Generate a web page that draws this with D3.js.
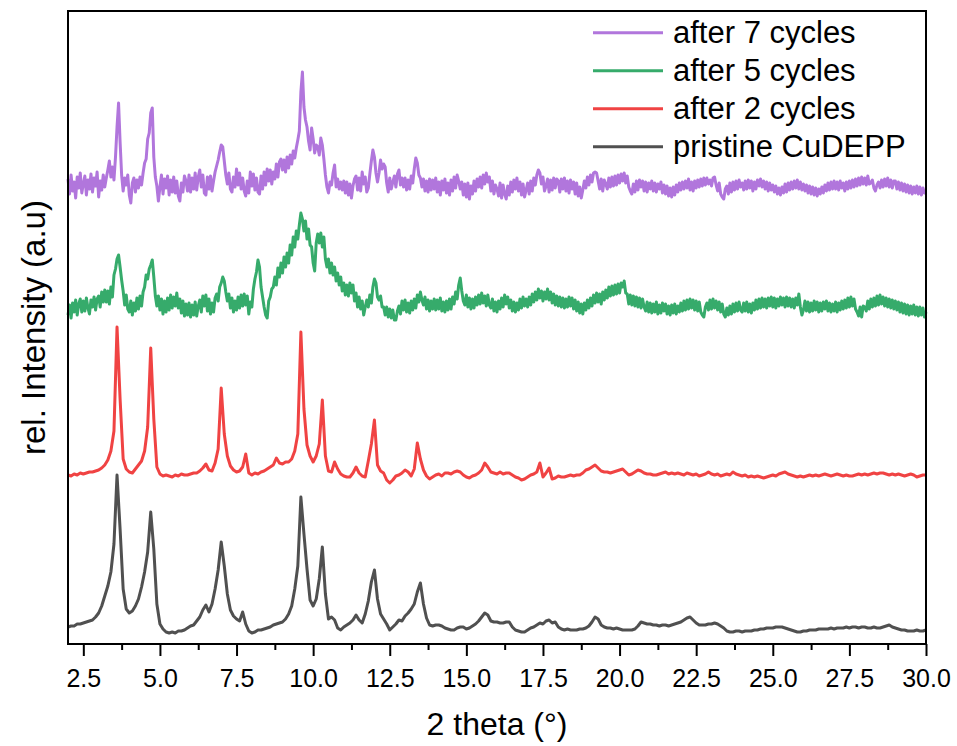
<!DOCTYPE html>
<html>
<head>
<meta charset="utf-8">
<script src="https://cdn.jsdelivr.net/npm/d3@7"></script>
<style>
  html, body { margin: 0; padding: 0; background: #fff; }
  svg { display: block; font-family: "Liberation Sans", Arial, sans-serif; }
</style>
</head>
<body>
<svg id="chart" width="957" height="746"></svg>
<script>
// ---------------- DATA ----------------
// scan grids (2-theta start, step) for each measured pattern
const scanStart = 2.0;
const coarseStep = 0.1;   // pristine and 2-cycle scans
const fineStep = 0.05;    // 5-cycle and 7-cycle scans

const xTicksMajor = [2.5, 5.0, 7.5, 10.0, 12.5, 15.0, 17.5, 20.0, 22.5, 25.0, 27.5, 30.0];
const xTicksMinor = [3.75, 6.25, 8.75, 11.25, 13.75, 16.25, 18.75, 21.25, 23.75, 26.25, 28.75];

const seriesNames = ["pristine CuDEPP", "after 2 cycles", "after 5 cycles", "after 7 cycles"];
const seriesColors = ["#505050", "#F04343", "#36AB6B", "#B176DC"];
const seriesOffsets = [0, 155, 317, 447];   // vertical stacking offsets (a.u.)

// pristine CuDEPP, 2.0 .. 30.0 step 0.1
const pristine = [
 17,18,18,20,20,21,22,23,24,27,
 31,38,48,58,72,100,169,115,55,35,
 31,33,38,45,57,72,92,132,95,40,
 20,15,12,11,12,11,13,13,14,16,
 18,19,23,27,34,39,32,40,55,74,
 102,78,50,34,28,25,23,32,20,13,
 11,12,14,14,15,16,17,19,20,21,
 22,25,30,38,55,78,147,110,75,44,
 38,45,65,97,50,25,27,24,16,14,
 17,19,21,24,29,24,21,30,43,62,
 74,45,30,25,20,14,17,20,24,23,
 28,31,35,40,52,61,40,26,19,18,
 19,19,18,16,15,14,14,16,17,17,
 15,16,18,20,23,27,31,29,23,22,
 22,21,21,22,22,17,14,13,12,12,
 14,16,17,19,21,20,23,24,21,22,
 17,15,14,15,14,14,14,15,15,16,
 18,22,27,25,19,17,16,16,15,16,
 15,14,14,14,14,15,18,22,21,20,
 20,19,19,18,19,19,18,19,20,21,
 22,24,26,27,24,21,19,19,19,20,
 20,21,20,18,16,13,12,12,13,13,
 12,13,13,13,14,14,15,15,16,16,
 16,17,17,17,16,15,14,13,12,12,
 13,13,14,14,14,15,15,15,15,16,
 15,16,16,16,17,16,17,17,16,17,
 17,16,16,17,16,16,17,18,19,17,
 16,15,14,14,13,13,13,14,13,13,
 14
];

// after 2 cycles, 2.0 .. 30.0 step 0.1
const cycles2 = [
 14,13,15,14,16,15,16,17,17,18,
 19,21,24,29,38,58,162,90,30,20,
 17,16,20,24,28,38,62,141,70,22,
 15,13,14,13,12,14,13,15,14,14,
 15,16,16,18,21,25,19,18,26,40,
 101,55,33,23,19,17,18,22,35,16,
 14,16,15,17,18,20,22,24,31,26,
 25,27,27,30,38,55,157,80,44,33,
 27,33,45,89,33,18,17,27,20,15,
 13,12,12,16,22,16,13,12,28,45,
 69,24,18,16,9,6,9,13,14,16,
 19,17,13,20,46,30,19,13,10,12,
 14,15,13,16,16,15,17,18,17,14,
 12,11,13,14,16,19,26,22,17,16,
 15,17,15,16,16,14,12,11,9,10,
 12,14,15,17,26,12,16,21,10,11,
 13,12,12,13,14,13,14,14,16,19,
 20,22,24,21,18,17,17,16,17,18,
 19,20,17,14,15,17,19,18,16,15,
 15,14,14,15,16,17,15,16,15,16,
 15,14,16,15,14,15,13,14,15,17,
 15,14,15,13,14,15,14,17,15,14,
 13,14,12,13,12,13,12,11,12,13,
 14,13,15,16,17,15,14,13,12,13,
 12,13,14,13,14,13,14,15,14,13,
 14,15,14,13,14,13,13,14,15,14,
 15,14,15,16,15,16,16,15,14,15,
 14,15,14,13,14,15,14,12,13,14,
 14
];

// after 5 cycles, 2.0 .. 30.0 step 0.05
const cycles5 = [
 12,22,9,24,15,27,12,23,28,15,26,16,29,19,13,27,20,30,17,28,
 31,20,35,25,37,25,36,23,40,30,52,58,68,72,60,47,36,22,32,18,
 15,26,12,24,16,29,18,31,21,35,40,52,48,58,62,67,50,31,21,31,
 17,28,13,26,15,29,17,32,19,30,21,34,19,28,14,26,11,23,12,24,
 10,22,12,25,11,21,27,15,31,21,32,16,28,13,24,15,29,33,26,40,
 44,50,46,35,26,33,19,29,15,26,17,30,19,32,21,33,22,31,13,25,
 20,38,48,55,67,60,40,30,20,12,9,26,30,38,40,50,42,59,50,64,
 54,70,60,74,64,82,72,90,80,96,88,102,114,108,96,106,88,98,82,80,
 64,56,84,93,84,94,80,90,68,60,68,54,64,52,60,46,54,42,50,36,
 44,32,42,31,44,34,42,26,34,20,30,18,26,12,20,27,20,32,24,40,
 48,44,30,27,31,20,20,12,20,10,18,9,17,7,7,16,21,13,26,17,
 27,15,24,14,26,17,28,19,32,25,35,27,22,30,18,27,16,26,18,28,
 17,27,18,29,16,25,15,26,17,28,18,30,23,35,28,42,49,36,26,22,
 32,20,29,18,28,19,30,22,32,23,34,24,31,21,32,22,19,28,16,25,
 15,26,18,29,20,32,23,30,19,27,16,25,15,24,17,28,19,30,21,28,
 20,30,22,33,25,35,27,38,29,36,26,35,28,38,27,35,24,33,22,31,
 21,30,20,29,19,28,20,30,21,29,18,27,16,25,14,23,13,24,17,27,
 19,29,21,32,24,34,25,33,23,35,27,37,29,40,31,41,32,42,33,43,
 34,44,40,46,34,33,23,32,22,31,21,30,20,29,19,28,20,16,25,15,
 24,14,23,15,25,13,22,14,24,16,23,13,21,12,22,14,23,13,21,15,
 24,16,26,17,27,18,28,19,27,17,26,16,25,15,12,10,20,24,17,27,
 18,28,19,26,17,25,15,23,13,10,19,12,21,13,23,15,24,16,25,17,
 15,24,16,25,15,23,14,24,17,27,18,28,19,29,20,28,19,29,21,30,
 20,29,19,28,21,30,22,29,20,30,21,29,20,28,19,29,22,33,20,12,
 17,26,16,25,15,24,16,26,17,25,15,24,16,25,18,26,16,24,15,23,
 16,25,15,24,17,26,18,27,19,29,20,30,21,28,18,15,11,20,10,21,
 20,16,26,18,28,20,29,21,31,22,32,23,30,21,29,20,28,19,27,18,
 26,17,25,15,24,14,23,13,22,12,21,13,22,12,20,11,20,12,19,10,
 15
];

// after 7 cycles, 2.0 .. 30.0 step 0.05
const cycles7 = [
 18,3,22,6,15,-1,20,9,24,4,13,21,2,17,8,23,5,19,11,25,
 0,16,7,22,10,19,27,36,20,30,17,40,70,94,55,22,6,19,12,22,
 2,-6,14,19,5,17,9,20,12,24,34,38,58,64,84,89,40,20,11,-4,
 10,22,3,18,9,21,2,17,5,20,4,16,1,-4,14,5,21,16,6,22,
 5,19,8,24,7,20,27,10,22,4,2,20,8,21,6,16,25,31,37,45,
 52,50,36,22,13,24,8,5,20,10,28,12,24,8,19,6,1,16,4,25,
 11,23,7,19,5,3,21,8,25,12,28,16,27,13,25,18,33,20,35,38,
 27,37,25,40,29,42,33,46,39,49,57,66,105,125,90,77,70,56,47,69,
 58,44,52,50,42,59,52,38,22,10,4,15,12,24,32,10,18,8,15,7,
 16,4,15,2,13,-1,11,18,21,7,19,6,25,13,20,5,9,23,36,47,
 40,24,15,24,37,28,33,30,14,5,19,8,15,21,10,23,27,12,19,10,
 19,7,17,8,21,14,28,39,34,22,19,10,18,6,16,5,18,7,17,8,
 19,5,15,2,16,7,18,4,14,2,17,6,20,9,22,16,8,15,2,13,
 0,14,-2,11,3,16,6,18,10,20,9,22,13,24,15,20,6,16,3,12,
 8,1,14,-1,12,3,-2,11,2,15,5,17,8,19,6,15,2,13,0,7,
 14,3,16,6,19,12,22,27,24,13,20,6,11,18,5,17,7,19,9,18,
 16,5,18,8,19,6,16,4,17,8,15,3,14,1,10,-1,7,16,9,20,
 12,22,15,24,25,24,16,8,18,6,17,13,8,19,10,20,11,21,12,22,
 14,23,16,24,14,21,10,6,3,13,5,16,7,17,10,16,6,15,5,14,
 8,16,6,14,5,13,8,15,4,12,3,11,1,9,0,10,2,12,5,14,
 7,15,8,16,9,18,7,15,6,16,9,17,10,18,11,19,12,19,13,17,
 11,19,20,12,6,14,3,0,-2,8,11,3,14,5,15,7,16,8,17,10,
 14,7,16,8,17,9,16,6,15,8,17,11,18,10,16,8,15,6,14,7,
 12,5,11,3,9,2,10,4,13,5,14,7,15,8,16,9,17,8,15,7,
 13,6,12,4,11,3,10,2,9,1,8,3,10,4,12,6,14,7,15,8,
 16,8,15,7,16,9,14,6,15,8,16,9,17,10,18,11,19,12,20,13,
 19,12,21,13,14,17,9,6,12,15,9,17,10,18,11,19,10,17,9,16,
 16,8,15,7,14,6,13,5,12,4,11,3,10,4,11,3,10,2,9,4,
 5
];

const seriesValues = [pristine, cycles2, cycles5, cycles7];
const seriesSteps = [coarseStep, coarseStep, fineStep, fineStep];
const legendOrder = [3, 2, 1, 0];

const xLabel = "2 theta (°)";
const yLabel = "rel. Intensity (a.u)";

// ---------------- CHART ----------------
const svg = d3.select("#chart");
const plot = { left: 68, right: 926, top: 11, bottom: 644 };

const x = d3.scaleLinear().domain([2, 30]).range([plot.left, plot.right]);
const y = d3.scaleLinear().domain([0, 633]).range([plot.bottom, plot.top]);

// series lines
const line = d3.line()
  .x(d => x(d[0]))
  .y(d => y(d[1]));

seriesValues.forEach((vals, i) => {
  const pts = vals.map((v, k) => [scanStart + k * seriesSteps[i], v + seriesOffsets[i]]);
  svg.append("path")
    .datum(pts)
    .attr("fill", "none")
    .attr("stroke", seriesColors[i])
    .attr("stroke-width", 3)
    .attr("stroke-linejoin", "round")
    .attr("d", line);
});

// frame
svg.append("rect")
  .attr("x", plot.left).attr("y", plot.top)
  .attr("width", plot.right - plot.left).attr("height", plot.bottom - plot.top)
  .attr("fill", "none").attr("stroke", "#000").attr("stroke-width", 2);

// x axis major ticks + labels
const gx = svg.append("g")
  .attr("transform", `translate(0,${plot.bottom})`)
  .call(d3.axisBottom(x).tickValues(xTicksMajor).tickFormat(d3.format(".1f")).tickSize(12).tickSizeOuter(0).tickPadding(13));
gx.select(".domain").remove();
gx.selectAll(".tick line").attr("stroke", "#000").attr("stroke-width", 2);
gx.selectAll(".tick text")
  .attr("fill", "#000")
  .style("font-size", "25px")
  .style("font-family", "'Liberation Sans', Arial, sans-serif");

// minor ticks
const gxm = svg.append("g")
  .attr("transform", `translate(0,${plot.bottom})`)
  .call(d3.axisBottom(x).tickValues(xTicksMinor).tickFormat("").tickSize(6).tickSizeOuter(0));
gxm.select(".domain").remove();
gxm.selectAll(".tick line").attr("stroke", "#000").attr("stroke-width", 2);

// axis titles
svg.append("text")
  .attr("x", (plot.left + plot.right) / 2)
  .attr("y", 735)
  .attr("text-anchor", "middle")
  .style("font-size", "32px")
  .attr("fill", "#000")
  .text(xLabel);

svg.append("text")
  .attr("transform", `translate(45,${(plot.top + plot.bottom) / 2}) rotate(-90)`)
  .attr("text-anchor", "middle")
  .style("font-size", "33px")
  .attr("fill", "#000")
  .text(yLabel);

// legend
const legend = svg.append("g");
legendOrder.forEach((si, row) => {
  const ly = 32.7 + row * 38;
  legend.append("line")
    .attr("x1", 593).attr("x2", 663)
    .attr("y1", ly).attr("y2", ly)
    .attr("stroke", seriesColors[si])
    .attr("stroke-width", 3);
  legend.append("text")
    .attr("x", 673)
    .attr("y", ly + 10.5)
    .style("font-size", "31px")
    .attr("fill", "#000")
    .text(seriesNames[si]);
});
</script>
</body>
</html>
